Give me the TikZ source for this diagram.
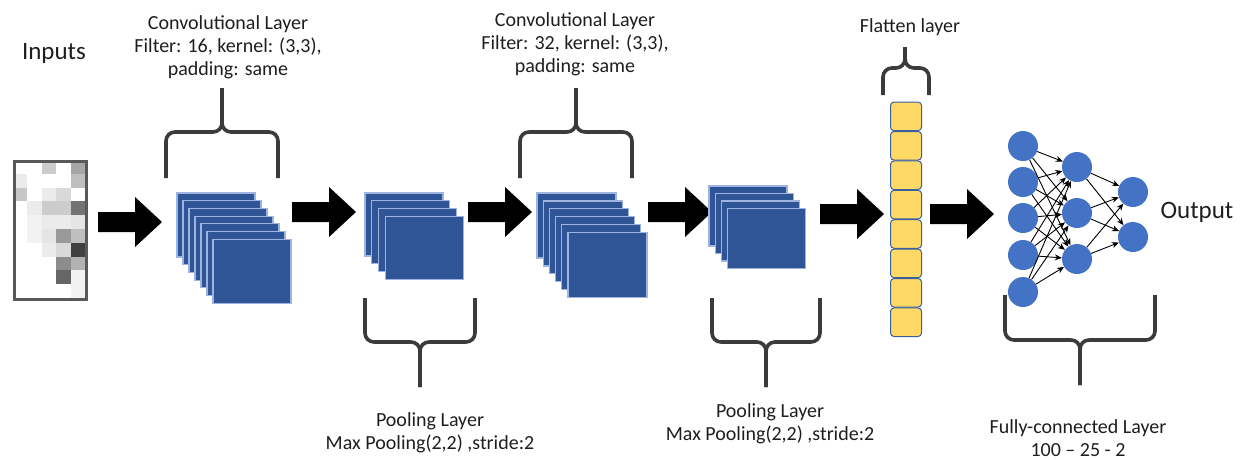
\documentclass[tikz,border=0pt]{standalone}
\usepackage{fontspec}
\setmainfont{Carlito}
\usetikzlibrary{arrows.meta}
\definecolor{fmfill}{HTML}{2F5597}
\definecolor{fmedge}{HTML}{9DB3E0}
\definecolor{nodeblue}{HTML}{4472C4}
\definecolor{flatfill}{HTML}{FFD966}
\definecolor{flatedge}{HTML}{3A5F9E}
\definecolor{bracecol}{HTML}{3B3B3B}
\definecolor{txt}{HTML}{1E1E1E}
\newcommand\blockarrow[3]{%
  \coordinate (#1) at (#2,#3);
  \fill[black,shift={(#1)}] (0,-10) -- (37,-10) -- (37,-25) -- (64,0) -- (37,25) -- (37,10) -- (0,10) -- cycle;}
\newcommand\fmstack[7]{% name, x0, y0, dx, dy, n, w/h
  \foreach \i in {1,...,#6}{
    \node[fmap,#7] (#1-\i) at ({#2+(\i-1)*#4},{#3+(\i-1)*#5}) {};}}
\begin{document}
\begin{tikzpicture}[x=1pt,y=-1pt,
  fmap/.style={draw=fmedge, fill=fmfill, line width=1.2, inner sep=0, outer sep=0, anchor=north west},
  neuron/.style={circle, fill=nodeblue, minimum size=30, inner sep=0},
  cell/.style={draw=flatedge, fill=flatfill, rounded corners=3.5, minimum width=31, minimum height=28.6, inner sep=0, line width=1},
  bracepath/.style={draw=bracecol, line width=3.6, rounded corners=9},
  wire/.style={-{Stealth[length=7,width=6]}, line width=0.9, black},
  lbl/.style={font=\fontsize{20}{23}\selectfont, text=txt, align=center},
  big/.style={font=\fontsize{25}{30}\selectfont, text=txt}]
\useasboundingbox (0,0) rectangle (1246,459);

% input image
\foreach \r/\vals in {0/{0,0,20,0,35},1/{8,0,0,0,25},2/{22,0,8,15,0},3/{0,8,20,20,55},4/{0,5,8,8,10},5/{0,5,10,40,25},6/{0,0,8,15,75},7/{0,0,0,45,30},8/{0,0,0,60,5},9/{0,0,0,0,5}}{
  \foreach \v [count=\c from 0] in \vals {
    \fill[black!\v] ({13+\c*14.4},{160+\r*13.8}) rectangle ++(14.4,13.8);}}
\node[draw=black!65, line width=2.5, minimum width=72, minimum height=138, inner sep=0, anchor=north west] (img) at (13,160) {};
\node[big] (inputs) at (54,53) {Inputs};

% block arrows
\blockarrow{a1}{98}{222}
\blockarrow{a2}{292}{212}
\blockarrow{a3}{468}{212}
\blockarrow{a4}{648}{212}
\blockarrow{a5}{820}{214}
\blockarrow{a6}{930}{214}

% feature map stacks
\fmstack{conva}{177}{193}{6}{7.7}{7}{minimum width=78, minimum height=64}
\fmstack{poola}{365}{193}{6.7}{7.7}{4}{minimum width=78, minimum height=63}
\fmstack{convb}{537}{193}{6.2}{7.9}{6}{minimum width=79, minimum height=65}
\fmstack{poolb}{709}{186}{6.2}{7.5}{4}{minimum width=78, minimum height=60}

% braces
\coordinate (b1) at (222,88);
\draw[bracepath] (166,178) -- (166,132) -- (b1 |- 0,132) -- (b1);
\draw[bracepath] (278,178) -- (278,132) -- (b1 |- 0,132) -- (b1);
\coordinate (b2) at (420,387);
\draw[bracepath] (365,298) -- (365,342) -- (b2 |- 0,342) -- (b2);
\draw[bracepath] (475,298) -- (475,342) -- (b2 |- 0,342) -- (b2);
\coordinate (b3) at (576,88);
\draw[bracepath] (520,178) -- (520,132) -- (b3 |- 0,132) -- (b3);
\draw[bracepath] (632,178) -- (632,132) -- (b3 |- 0,132) -- (b3);
\coordinate (b4) at (766,387);
\draw[bracepath] (712,298) -- (712,342) -- (b4 |- 0,342) -- (b4);
\draw[bracepath] (820,298) -- (820,342) -- (b4 |- 0,342) -- (b4);
\coordinate (b5) at (905,47);
\draw[bracepath] (883,95) -- (883,68) -- (b5 |- 0,68) -- (b5);
\draw[bracepath] (929,95) -- (929,68) -- (b5 |- 0,68) -- (b5);
\coordinate (b6) at (1080,385);
\draw[bracepath] (1005,295) -- (1005,340) -- (b6 |- 0,340) -- (b6);
\draw[bracepath] (1155,295) -- (1155,340) -- (b6 |- 0,340) -- (b6);

% flatten layer
\foreach \i in {0,...,7}
  \node[cell] (f\i) at (906,{116.4+\i*29.4}) {};

% fully connected network
\foreach \y [count=\i] in {146,182,218,255,292}
  \node[neuron] (n1-\i) at (1023,\y) {};
\foreach \y [count=\i] in {167,213,259}
  \node[neuron] (n2-\i) at (1077,\y) {};
\foreach \y [count=\i] in {192,237}
  \node[neuron] (n3-\i) at (1133,\y) {};
\foreach \i in {1,...,5}
  \foreach \j in {1,2,3}
    \draw[wire] (n1-\i) -- (n2-\j);
\foreach \i in {1,2,3}
  \foreach \j in {1,2}
    \draw[wire] (n2-\i) -- (n3-\j);

% labels
\node[lbl] (tconva) at (228,47) {Convolutional Layer\\Filter: 16, kernel: (3,3),\\padding: same};
\node[lbl] (tconvb) at (575,44) {Convolutional Layer\\Filter: 32, kernel: (3,3),\\padding: same};
\node[lbl] (tpoola) at (430,433) {Pooling Layer\\Max Pooling(2,2) ,stride:2};
\node[lbl] (tpoolb) at (770,424) {Pooling Layer\\Max Pooling(2,2) ,stride:2};
\node[lbl] (tflat) at (910,27) {Flatten layer};
\node[lbl] (tfc) at (1078,438) {Fully-connected Layer\\100 -- 25 - 2};
\node[big] (output) at (1197,212) {Output};
\end{tikzpicture}
\end{document}
